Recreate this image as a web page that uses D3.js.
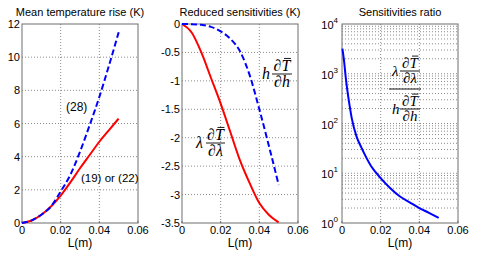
<!DOCTYPE html>
<html>
<head>
<meta charset="utf-8">
<script src="https://cdn.jsdelivr.net/npm/d3@7"></script>
<style>
body { margin: 0; background: #fff; }
text { font-family: "Liberation Sans", Arial, sans-serif; fill: #000; }
.grid { stroke: #8c8c8c; stroke-width: 1; stroke-dasharray: 1,2; fill: none; }
.frame { stroke: #6e6e6e; stroke-width: 1; fill: none; }
</style>
</head>
<body>
<div id="viz"></div>
<script>
var w = 480, h = 256;

// ---- data ----
var L = [0, 0.005, 0.01, 0.015, 0.02, 0.025, 0.03, 0.035, 0.04, 0.045, 0.05];
var riseEq28 = [0, 0.16, 0.5, 1.0, 1.9, 2.9, 4.3, 5.9, 7.6, 9.5, 11.5];
var riseEq19 = [0, 0.15, 0.5, 1.0, 1.65, 2.45, 3.3, 4.1, 4.9, 5.6, 6.3];

var sensLambda = [0, -0.15, -0.5, -0.95, -1.4, -1.9, -2.4, -2.8, -3.15, -3.36, -3.49];
var sensH = [0, -0.003, -0.015, -0.05, -0.13, -0.26, -0.48, -0.9, -1.5, -2.15, -2.83];

var Lratio = [0.0002, 0.001, 0.002, 0.003, 0.004, 0.005, 0.0075, 0.01, 0.015, 0.02, 0.025, 0.03, 0.035, 0.04, 0.045, 0.05];
var ratio = [3200, 1900, 800, 400, 220, 130, 55, 33, 14, 8, 5, 3.4, 2.6, 2.0, 1.6, 1.27];

var xTicks = [0, 0.02, 0.04, 0.06];
var riseTicks = [0, 2, 4, 6, 8, 10, 12];
var sensTicks = [0, -0.5, -1, -1.5, -2, -2.5, -3, -3.5];
var ratioTicks = [1, 10, 100, 1000, 10000];

var titles = ["Mean temperature rise (K)", "Reduced sensitivities (K)", "Sensitivities ratio"];

// ---- layout ----
var panelLeft = [22, 182, 342];
var pw = 116, plotTop = 24, plotBottom = 223;

var svg = d3.select("#viz").append("svg")
    .attr("width", w)
    .attr("height", h);

function panel(i, yScale, gridVals, labelFn) {
    var x0 = panelLeft[i];
    var g = svg.append("g").attr("transform", "translate(" + x0 + ",0)");
    var x = d3.scaleLinear().domain([0, 0.06]).range([0, pw]);

    // grid
    g.selectAll("line.vgrid").data(xTicks.slice(1, -1)).enter().append("line")
        .attr("class", "grid")
        .attr("x1", d => x(d)).attr("x2", d => x(d))
        .attr("y1", plotTop).attr("y2", plotBottom);
    g.selectAll("line.hgrid").data(gridVals).enter().append("line")
        .attr("class", "grid")
        .attr("x1", 0).attr("x2", pw)
        .attr("y1", d => yScale(d)).attr("y2", d => yScale(d));

    // x tick labels
    g.selectAll("text.xt").data(xTicks).enter().append("text")
        .attr("x", d => x(d)).attr("y", 234)
        .attr("text-anchor", "middle")
        .style("font-size", "11px")
        .text(d => d === 0 ? "0" : d3.format(".2f")(d));

    g.append("text")
        .attr("x", pw / 2).attr("y", 247)
        .attr("text-anchor", "middle")
        .style("font-size", "12px")
        .text("L(m)");

    g.append("text")
        .attr("x", pw / 2).attr("y", 16)
        .attr("text-anchor", "middle")
        .style("font-size", "11px")
        .text(titles[i]);

    labelFn(g);

    g.append("rect").attr("class", "frame")
        .attr("x", 0).attr("y", plotTop).attr("width", pw).attr("height", plotBottom - plotTop);

    // small inward ticks
    g.selectAll("line.xtk").data(xTicks).enter().append("line")
        .attr("x1", d => x(d)).attr("x2", d => x(d))
        .attr("y1", plotBottom).attr("y2", plotBottom - 2)
        .attr("stroke", "#6e6e6e");

    return { g: g, x: x };
}

function linearLabels(yScale, ticks) {
    return function (g) {
        g.selectAll("text.yt").data(ticks).enter().append("text")
            .attr("x", -2).attr("y", d => yScale(d) + 4)
            .attr("text-anchor", "end")
            .style("font-size", "11px")
            .text(d => d);
    };
}

function curve(p, xs, ys, yScale, color, dashed) {
    var pts = xs.map((d, i) => [d, ys[i]]);
    var line = d3.line()
        .x(d => p.x(d[0]))
        .y(d => yScale(d[1]))
        .curve(d3.curveMonotoneX);
    p.g.append("path")
        .attr("d", line(pts))
        .attr("fill", "none")
        .attr("stroke", color)
        .attr("stroke-width", 2)
        .attr("stroke-dasharray", dashed ? "6,3" : null);
}

// math fraction: prefix  ∂T̄ / ∂den
function frac(g, px, lineY, off, wid, prefix, den, fs) {
    var serif = "'Liberation Serif', 'Times New Roman', serif";
    g.append("text")
        .attr("x", px).attr("y", lineY + fs * 0.3)
        .style("font-family", serif).style("font-style", "italic")
        .style("font-size", fs + "px")
        .text(prefix);
    var lx = px + off, cx = lx + wid / 2;
    g.append("line")
        .attr("x1", lx).attr("x2", lx + wid)
        .attr("y1", lineY).attr("y2", lineY)
        .attr("stroke", "#000").attr("stroke-width", 0.9);
    var num = g.append("text")
        .attr("x", cx).attr("y", lineY - 3)
        .attr("text-anchor", "middle")
        .style("font-family", serif).style("font-style", "italic")
        .style("font-size", fs + "px")
        .text("\u2202T");
    var ext = num.node().getExtentOfChar(1);
    var oy = lineY - 3 - fs * 0.66 - 2;
    g.append("line")
        .attr("x1", ext.x + 2.5).attr("x2", ext.x + ext.width + 0.5)
        .attr("y1", oy).attr("y2", oy)
        .attr("stroke", "#000").attr("stroke-width", 0.9);
    g.append("text")
        .attr("x", cx).attr("y", lineY + fs * 0.82)
        .attr("text-anchor", "middle")
        .style("font-family", serif).style("font-style", "italic")
        .style("font-size", fs + "px")
        .text("\u2202" + den);
}

// ---- panel 1 ----
var y1 = d3.scaleLinear().domain([0, 12]).range([plotBottom, plotTop]);
var p1 = panel(0, y1, riseTicks.slice(1, -1), linearLabels(y1, riseTicks));
curve(p1, L, riseEq19, y1, "#ff0000", false);
curve(p1, L, riseEq28, y1, "#0000ff", true);
p1.g.append("text").attr("x", 44).attr("y", 111).style("font-size", "12px").text("(28)");
p1.g.append("text").attr("x", 59).attr("y", 182).style("font-size", "11.5px").text("(19) or (22)");

// ---- panel 2 ----
var y2 = d3.scaleLinear().domain([-3.5, 0]).range([plotBottom, plotTop]);
var p2 = panel(1, y2, sensTicks.slice(1, -1), linearLabels(y2, sensTicks));
curve(p2, L, sensLambda, y2, "#ff0000", false);
curve(p2, L, sensH, y2, "#0000ff", true);
frac(p2.g, 262 - 182, 74, 10, 20, "h", "h", 16);
frac(p2.g, 196 - 182, 143, 10, 19, "\u03bb", "\u03bb", 16);

// ---- panel 3 ----
var y3 = d3.scaleLog().domain([1, 10000]).range([plotBottom, plotTop]);
var minor = [];
for (var k = 0; k < 4; k++) {
    for (var m = 1; m <= 9; m++) {
        if (k === 0 && m === 1) continue;
        minor.push(m * Math.pow(10, k));
    }
}
var p3 = panel(2, y3, minor, function (g) {
    var t = g.selectAll("text.yt").data(ratioTicks).enter().append("text")
        .attr("x", -4).attr("y", d => y3(d) + 5)
        .attr("text-anchor", "end")
        .style("font-size", "11px")
        .text("10");
    t.append("tspan")
        .attr("dy", -6)
        .style("font-size", "8px")
        .text(d => Math.round(Math.log10(d)));
});
curve(p3, Lratio, ratio, y3, "#0000ff", false);
var g3 = p3.g;
frac(g3, 392 - 342, 71, 8, 20, "\u03bb", "\u03bb", 15);
frac(g3, 392 - 342, 109, 8, 20, "h", "h", 15);
g3.append("line")
    .attr("x1", 389 - 342).attr("x2", 421 - 342)
    .attr("y1", 89).attr("y2", 89)
    .attr("stroke", "#000").attr("stroke-width", 0.9);
</script>
</body>
</html>
